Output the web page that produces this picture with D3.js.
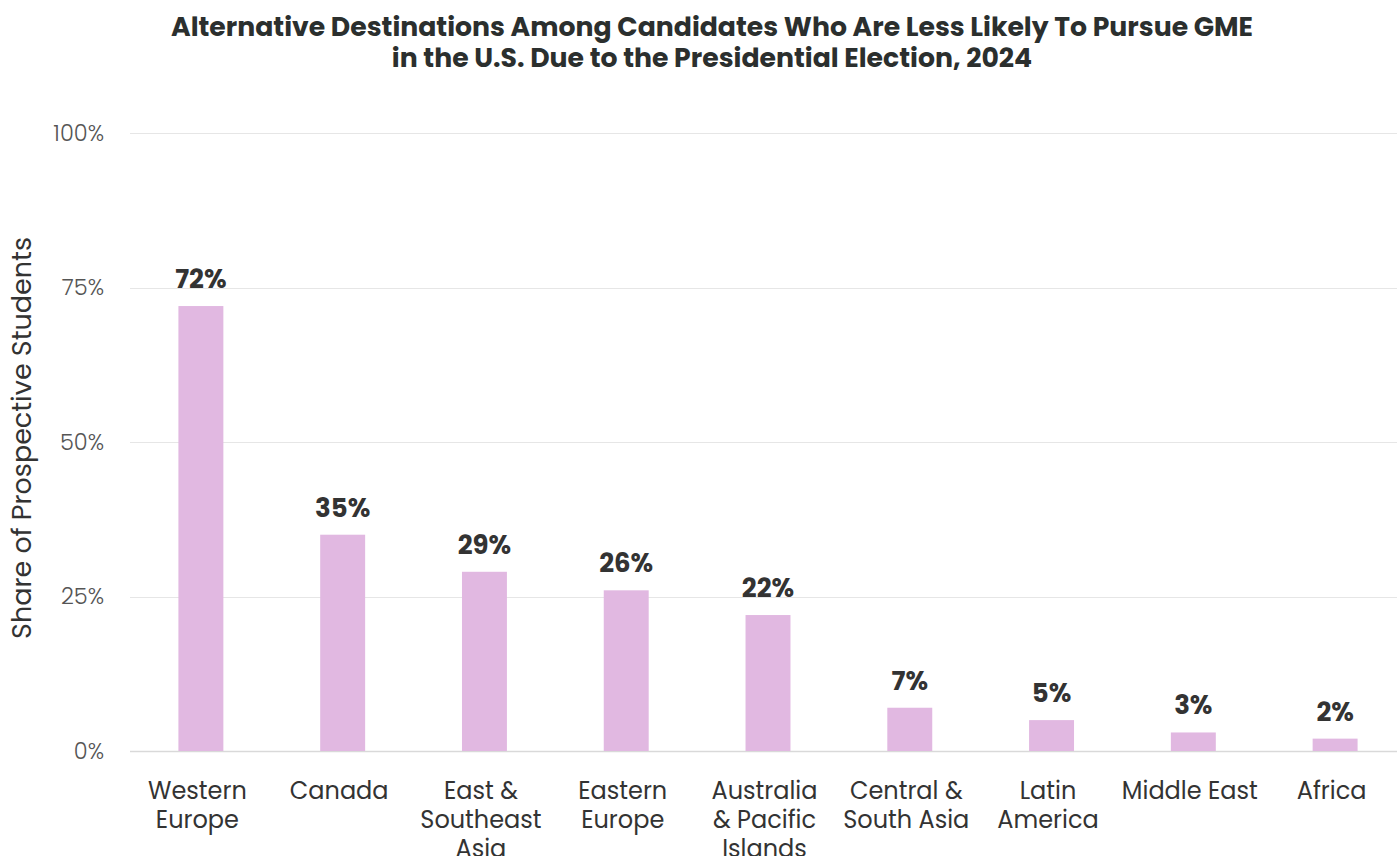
<!DOCTYPE html>
<html>
<head>
<meta charset="utf-8">
<script src="https://cdn.jsdelivr.net/npm/d3@7"></script>
<style>
  html, body { margin: 0; padding: 0; background: #ffffff; }
  svg { display: block; }
  text { font-family: Poppins, "Open Sans", "Noto Sans", sans-serif; }
</style>
</head>
<body>
<svg id="chart" width="1397" height="856"></svg>
<script>
// Destinations and their share of prospective students (%)
const categories = [
  ["Western", "Europe"],
  ["Canada"],
  ["East &", "Southeast", "Asia"],
  ["Eastern", "Europe"],
  ["Australia", "& Pacific", "Islands"],
  ["Central &", "South Asia"],
  ["Latin", "America"],
  ["Middle East"],
  ["Africa"]
];
const shares = [72, 35, 29, 26, 22, 7, 5, 3, 2];
const yTicks = [0, 25, 50, 75, 100];
const titleLines = [
  "Alternative Destinations Among Candidates Who Are Less Likely To Pursue GME",
  "in the U.S. Due to the Presidential Election, 2024"
];
const yAxisTitle = "Share of Prospective Students";

const svg = d3.select("#chart");
const W = 1397, H = 856;
const margin = { left: 130, right: -9, top: 133, bottom: 105 };

const keys = categories.map(c => c.join(" "));
const x = d3.scaleBand()
  .domain(keys)
  .range([margin.left, W - margin.right])
  .padding(0);
const barW = x.bandwidth() * 0.317;

const y = d3.scaleLinear()
  .domain([0, 100])
  .range([H - margin.bottom, margin.top]);

// Title
svg.append("g")
  .selectAll("text")
  .data(titleLines)
  .join("text")
  .attr("x", 712)
  .attr("y", (d, i) => 36 + i * 31)
  .attr("text-anchor", "middle")
  .attr("font-size", 26.7)
  .attr("font-weight", 700)
  .attr("fill", "#2b2f2e")
  .text(d => d);

// Gridlines
svg.append("g")
  .selectAll("line")
  .data(yTicks)
  .join("line")
  .attr("x1", margin.left)
  .attr("x2", W)
  .attr("y1", d => Math.round(y(d)) + 0.5)
  .attr("y2", d => Math.round(y(d)) + 0.5)
  .attr("stroke", d => d === 0 ? "#d9d9d9" : "#e6e6e6")
  .attr("stroke-width", d => d === 0 ? 1.5 : 1);

// Y tick labels
svg.append("g")
  .selectAll("text")
  .data(yTicks)
  .join("text")
  .attr("x", 104)
  .attr("y", d => y(d))
  .attr("dy", "0.35em")
  .attr("text-anchor", "end")
  .attr("font-size", 22.5)
  .attr("font-weight", 300)
  .attr("fill", "#555555")
  .text(d => d + "%");

// Y axis title
svg.append("text")
  .attr("transform", `translate(31, ${y(50) - 4}) rotate(-90)`)
  .attr("text-anchor", "middle")
  .attr("font-size", 27)
  .attr("fill", "#333333")
  .text(yAxisTitle);

// Bars
const data = keys.map((k, i) => ({ key: k, lines: categories[i], value: shares[i] }));
svg.append("g")
  .selectAll("rect")
  .data(data)
  .join("rect")
  .attr("x", d => x(d.key) + x.bandwidth() / 2 - barW / 2)
  .attr("y", d => y(d.value))
  .attr("width", barW)
  .attr("height", d => y(0) - y(d.value))
  .attr("fill", "#e1b8e1");

// Value labels
svg.append("g")
  .selectAll("text")
  .data(data)
  .join("text")
  .attr("x", d => x(d.key) + x.bandwidth() / 2)
  .attr("y", d => y(d.value) - 18)
  .attr("text-anchor", "middle")
  .attr("font-size", 26)
  .attr("font-weight", 700)
  .attr("fill", "#333333")
  .text(d => d.value + "%");

// Category labels, sitting slightly left of the bar centres
const labelShift = -3.5;
const cat = svg.append("g")
  .selectAll("text")
  .data(data)
  .join("text")
  .attr("x", d => x(d.key) + x.bandwidth() / 2 + labelShift)
  .attr("y", 799)
  .attr("text-anchor", "middle")
  .attr("font-size", 24)
  .attr("fill", "#333333");
cat.selectAll("tspan")
  .data(d => d.lines.map(l => ({ l, cx: x(d.key) + x.bandwidth() / 2 + labelShift })))
  .join("tspan")
  .attr("x", d => d.cx)
  .attr("dy", (d, i) => i === 0 ? 0 : 29)
  .text(d => d.l);
</script>
</body>
</html>
